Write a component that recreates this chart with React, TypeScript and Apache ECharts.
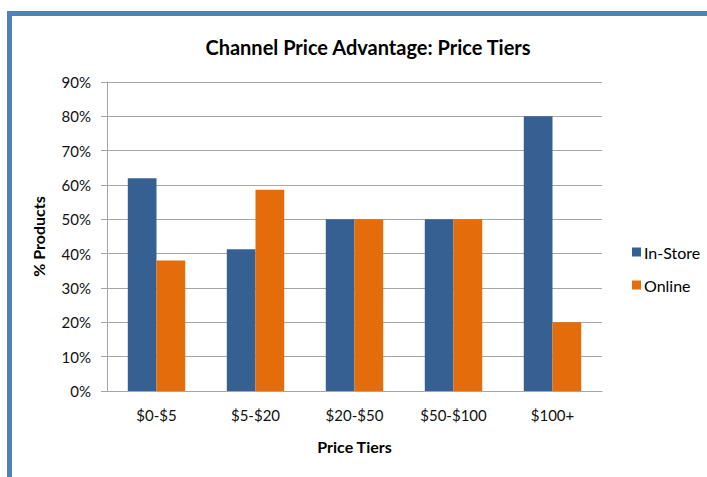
import React, { useEffect, useRef } from "react";
import * as echarts from "echarts";

const categories = ["$0-$5", "$5-$20", "$20-$50", "$50-$100", "$100+"];
const inStore = [62, 41.3, 50, 50, 80];
const online = [38, 58.6, 50, 50, 20];
const seriesNames = ["In-Store", "Online"];

const FONT = "Lato, 'Open Sans', sans-serif";

export default function App() {
  const ref = useRef<HTMLDivElement>(null);
  useEffect(() => {
    if (!ref.current) return;
    const chart = echarts.init(ref.current, undefined, { renderer: "svg" });
    chart.setOption({
      animation: false,
      backgroundColor: "#ffffff",
      textStyle: { fontFamily: FONT },
      title: {
        text: "Channel Price Advantage: Price Tiers",
        left: 363,
        top: 32,
        textAlign: "center",
        textStyle: { fontFamily: FONT, fontSize: 20, fontWeight: "bold", color: "#000" },
      },
      graphic: [
        { type: "rect", shape: { x: 7, y: 11, width: 700, height: 5 }, style: { fill: "#4F81BD" } },
        { type: "rect", shape: { x: 7, y: 11, width: 5, height: 466 }, style: { fill: "#4F81BD" } },
      ],
      legend: {
        orient: "vertical",
        left: 627,
        top: 239,
        itemWidth: 9,
        itemHeight: 9,
        itemGap: 17,
        icon: "rect",
        textStyle: { fontFamily: FONT, fontSize: 16, color: "#000", padding: [0, 0, 0, -2] },
        data: seriesNames,
      },
      grid: { left: 107, right: 105, top: 82, bottom: 86 },
      xAxis: {
        type: "category",
        data: categories,
        name: "Price Tiers",
        nameLocation: "middle",
        nameGap: 47,
        nameTextStyle: { fontFamily: FONT, fontSize: 16, fontWeight: "bold", color: "#000" },
        axisLine: { lineStyle: { color: "#a6a6a6" } },
        axisTick: { show: false },
        axisLabel: { fontFamily: FONT, fontSize: 15, color: "#111", margin: 16 },
      },
      yAxis: {
        type: "value",
        min: 0,
        max: 90,
        interval: 10,
        name: "% Products",
        nameLocation: "middle",
        nameGap: 61,
        nameRotate: 90,
        nameTextStyle: { fontFamily: FONT, fontSize: 16, fontWeight: "bold", color: "#000" },
        axisLine: { show: true, lineStyle: { color: "#a6a6a6" } },
        axisTick: { show: true, length: 6, lineStyle: { color: "#a6a6a6" } },
        axisLabel: { fontFamily: FONT, fontSize: 15, color: "#111", margin: 16, formatter: "{value}%" },
        splitLine: { lineStyle: { color: "#a6a6a6" } },
      },
      series: [
        {
          name: seriesNames[0],
          type: "bar",
          data: inStore,
          barGap: "0%",
          barCategoryGap: "42%",
          itemStyle: { color: "#376092" },
        },
        {
          name: seriesNames[1],
          type: "bar",
          data: online,
          barGap: "0%",
          barCategoryGap: "42%",
          itemStyle: { color: "#E46C0A" },
        },
      ],
    });
    return () => chart.dispose();
  }, []);
  return <div ref={ref} style={{ width: 707, height: 477, position: "absolute", left: 0, top: 0 }} />;
}
